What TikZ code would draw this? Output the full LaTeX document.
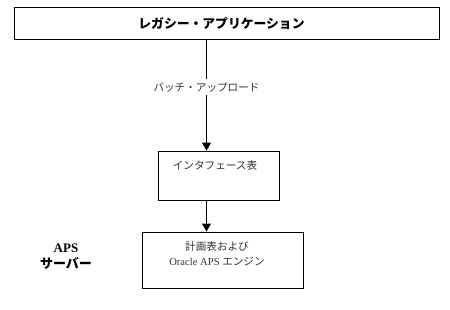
\documentclass[tikz,border=0pt]{standalone}
\usepackage{fontspec}
\setmainfont{Liberation Serif}
\newfontfamily\jp{Noto Sans CJK JP}
\usetikzlibrary{arrows.meta,positioning,calc}

\begin{document}
\begin{tikzpicture}[x=1pt,y=-1pt,
    box/.style={draw, line width=0.9pt, inner sep=0pt},
    txt/.style={black!80, font=\jp\fontsize{10.6}{14}\selectfont, inner sep=0pt},
    flow/.style={line width=0.9pt, -{Triangle[width=9pt,length=8pt]}}]
    \useasboundingbox (0,0) rectangle (450,309);

    % Boxes
    \node[box, minimum width=425, minimum height=32] (legacy) at (226.5,23) {};
    \node[font=\jp\bfseries\fontsize{12.8}{15}\selectfont, inner sep=0pt] (legacytxt) at (221.5,23) {レガシー・アプリケーション};

    \node[box, minimum width=121, minimum height=49] (iface) at (218.5,175.5) {};
    \node[txt] (ifacetxt) at (215,165) {インタフェース表};

    \node[box, minimum width=161, minimum height=56] (engine) at (222.5,260) {};
    \node[txt, align=center] (enginetxt) at (217,254)
        {計画表および\\[1pt]{\rmfamily Oracle APS }エンジン};

    % Server label
    \node[font=\bfseries\fontsize{13}{16}\selectfont, align=center, inner sep=0pt] (server) at (66,257)
        {APS\\{\jp サーバー}};

    % Connectors
    \coordinate (col) at (206.5,0);
    \draw[flow] (legacy.south -| col) -- node[txt, fill=white, inner ysep=3pt, inner xsep=1pt, pos=0.43] (batch) {バッチ・アップロード} (iface.north -| col);
    \draw[flow] (iface.south -| col) -- (engine.north -| col);
\end{tikzpicture}
\end{document}
